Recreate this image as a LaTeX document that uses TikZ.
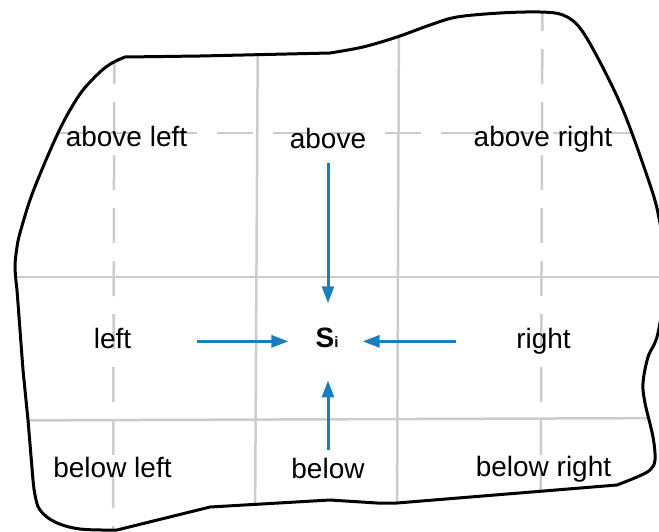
\documentclass[tikz,border=0pt]{standalone}
\usepackage{fontspec}
\setmainfont{Liberation Sans}
\usetikzlibrary{arrows.meta}
\definecolor{gridgray}{RGB}{204,204,204}
\definecolor{arrowblue}{RGB}{24,126,192}
\begin{document}
\begin{tikzpicture}[x=1pt,y=-1pt,
  lbl/.style={inner sep=0pt, anchor=base, font=\fontsize{28}{32}\selectfont},
  arr/.style={draw=arrowblue, line width=3pt, -{Triangle[length=17pt,width=12pt]}},
  gridsolid/.style={draw=gridgray, line width=2.5pt},
  griddashv/.style={draw=gridgray, line width=2.5pt, dash pattern=on 35pt off 18pt},
  griddashh/.style={draw=gridgray, line width=2.5pt, dash pattern=on 36pt off 20pt},
  outline/.style={draw=black, line width=3pt, line join=round}]
\useasboundingbox (0,0) rectangle (659,531);
\def\blob{(125,57) -- (200,56) -- (330,53)
  -- plot[smooth, tension=0.55] coordinates {(330,53) (363,47) (397,37) (430,25) (457,17) (500,13) (540,12) (563,15) (580,28) (600,62) (623,110) (645,170) (658,213) (666,273) (658,333) (648,357) (643,383) (645,403) (653,437) (655,460) (650,470) (637,477) (617,485)}
  -- (397,503) -- (377,503) -- (330,500) -- (210,507) -- (117,530)
  -- plot[smooth, tension=0.6] coordinates {(117,530) (80,529) (55,522) (40,510) (35,495) (33,480)}
  -- (28,420) -- (23,370) -- (17,290)
  -- plot[smooth, tension=0.55] coordinates {(17,290) (15,267) (17,247) (20,233) (30,200) (43,167) (58,133) (70,110) (83,90) (100,72) (112,63) (125,57)}
  -- cycle}
\begin{scope}
  \clip \blob;
  \draw[gridsolid] (258,0) -- (255,531);
  \draw[gridsolid] (399,0) -- (397,531);
  \draw[gridsolid] (0,277) -- (690,277);
  \draw[gridsolid] (0,420.5) -- (690,418);
  \draw[griddashv] (114.5,-4) -- (113,545);
  \draw[griddashv] (542.5,-4) -- (540.5,545);
  \draw[griddashh] (-7,133) -- (690,133);
\end{scope}
\draw[outline] \blob;
\node[lbl] (abl) at (126.5,146) {above left};
\node[lbl] (abv) at (328,148) {above};
\node[lbl] (abr) at (543,146) {above right};
\node[lbl] (lft) at (112.5,348) {left};
\node[lbl] (si) at (327,347) {\bfseries S{\fontsize{15}{15}\selectfont i}};
\node[lbl] (rgt) at (543.5,348) {right};
\node[lbl] (bll) at (112.5,477) {below left};
\node[lbl] (blw) at (328,478) {below};
\node[lbl] (blr) at (543.5,476) {below right};
\draw[arr, shorten <=15pt, shorten >=24pt] (abv.south) -- (abv.south |- si.north);
\draw[arr, shorten <=8pt, shorten >=33pt] (blw.north) -- (blw.north |- si.south);
\draw[arr, shorten <=66pt, shorten >=27pt] ([yshift=4pt]lft.mid east) -- ([yshift=4pt]lft.mid east -| si.west);
\draw[arr, shorten <=60pt, shorten >=24pt] ([yshift=4pt]rgt.mid west) -- ([yshift=4pt]rgt.mid west -| si.east);
\end{tikzpicture}
\end{document}
